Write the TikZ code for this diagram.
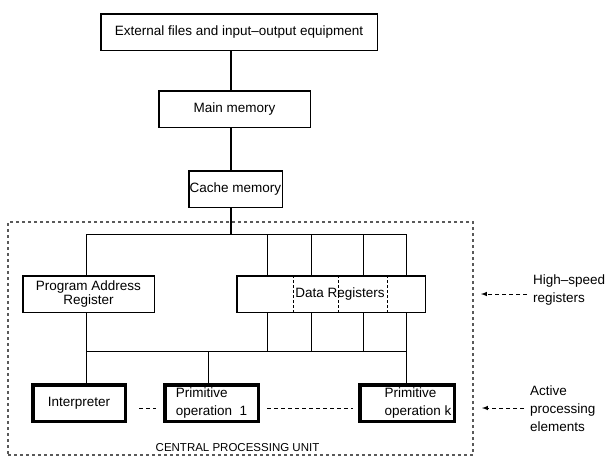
\documentclass[tikz,border=0pt]{standalone}
\usepackage{fontspec}
\setmainfont{Liberation Sans}
\usepackage{tikz}
\usetikzlibrary{shapes, arrows}
\tikzstyle{memory} = [rectangle, draw, line width=1.5pt, text centered, minimum height=36.5pt, inner sep=0pt]
\tikzstyle{register} = [rectangle, draw, line width=1.5pt, align=center, minimum height=36.5pt, inner sep=0pt]
\tikzstyle{element} = [rectangle, draw, line width=3.5pt, align=left, minimum height=36.5pt, inner sep=0pt]
\tikzstyle{connector} = [draw, line width=2pt]
\tikzstyle{bus} = [draw, line width=1pt]
\tikzstyle{divider} = [draw, line width=0.8pt, dash pattern=on 3pt off 2pt]
\tikzstyle{semiConnector} = [draw, line width=1pt, dash pattern=on 4pt off 3pt]
\tikzstyle{pointer} = [draw, -latex, line width=1pt, dash pattern=on 4pt off 3pt]
\tikzstyle{cpuFrame} = [draw, black!65, line width=1.2pt, dash pattern=on 3pt off 3pt]
\tikzstyle{sideLabel} = [align=left, anchor=west, inner xsep=6pt, inner ysep=0pt]

\begin{document}
\begin{tikzpicture}[x=1pt, y=-1pt, font=\fontsize{13.5}{18}\selectfont]

\useasboundingbox (0,0) rectangle (608,467);

\node[memory, minimum width=276.5pt] at (239,32) (ext) {External files and input--output equipment};
\node[memory, minimum width=151.5pt] at (234.5,109) (mainMem) {Main memory};
\node[memory, minimum width=93.5pt] at (235.5,189) (cacheMem) {Cache memory};

\node[cpuFrame, rectangle, minimum width=465pt, minimum height=233pt] at (240.5,338.5) (cpu) {};
\node[font=\fontsize{11.5}{13}\selectfont, inner sep=0pt] at (237.5,447.5) (cpuLabel) {CENTRAL PROCESSING UNIT};

\node[register, minimum width=131.5pt, font=\fontsize{13.5}{14}\selectfont] at (88.5,294) (progAddr) {Program Address\\Register};
\node[register, minimum width=188.5pt] at (331,294) (dataReg) {\hspace*{18pt}Data Registers};

\node[element, minimum width=92.5pt] at (79,403) (interp) {\raisebox{-5pt}{Interpreter}};
\node[element, minimum width=93.5pt] at (211.5,403) (primFirst) {Primitive\\operation\ \ 1};
\node[element, minimum width=94.5pt] at (407,403) (primLast) {\hspace*{22pt}Primitive\\\hspace*{22pt}operation k};

\node[sideLabel] at (527,290.5) (highSpeed) {High--speed\\registers};
\node[sideLabel] at (524,409) (active) {Active\\processing\\elements};

\coordinate (spine) at (231,0);
\coordinate (busTop) at (86,234);
\coordinate (busTopEnd) at (406,234);
\coordinate (busLow) at (86,351);
\coordinate (busLowEnd) at (406,351);
\coordinate (tapFirst) at (208,351);
\coordinate (highSpeedTip) at (481,294);
\coordinate (activeTip) at (482,408);

\path [connector] (ext.south -| spine) -- (mainMem.north -| spine);
\path [connector] (mainMem.south -| spine) -- (cacheMem.north -| spine);
\path [connector] (cacheMem.south -| spine) -- (spine |- busTop);

\path [bus] (busTop) -- (busTopEnd);
\path [bus] (busLow) -- (busLowEnd);
\path [bus] (busTop) -- (busTop |- progAddr.north);
\path [bus] (busTop |- progAddr.south) -- (busLow);
\foreach \x in {267,311,363,406} {
  \path [bus] (\x,234) -- (\x,0 |- dataReg.north);
  \path [bus] (\x,0 |- dataReg.south) -- (\x,351);
}
\foreach \x in {293,338,387}
  \path [divider] (\x,0 |- dataReg.north) -- (\x,0 |- dataReg.south);

\path [bus] (busLow) -- (busLow |- interp.north);
\path [bus] (tapFirst) -- (tapFirst |- primFirst.north);
\path [bus] (busLowEnd) -- (busLowEnd |- primLast.north);

\path [semiConnector, shorten <=12pt, shorten >=7pt] ([yshift=-5pt]interp.east) -- ([yshift=-5pt]primFirst.west);
\path [semiConnector, shorten <=7pt, shorten >=5pt] ([yshift=-5pt]primFirst.east) -- ([yshift=-5pt]primLast.west);

\path [pointer] (highSpeed.west |- highSpeedTip) -- (highSpeedTip);
\path [pointer] (active.west |- activeTip) -- (activeTip);

\end{tikzpicture}
\end{document}
